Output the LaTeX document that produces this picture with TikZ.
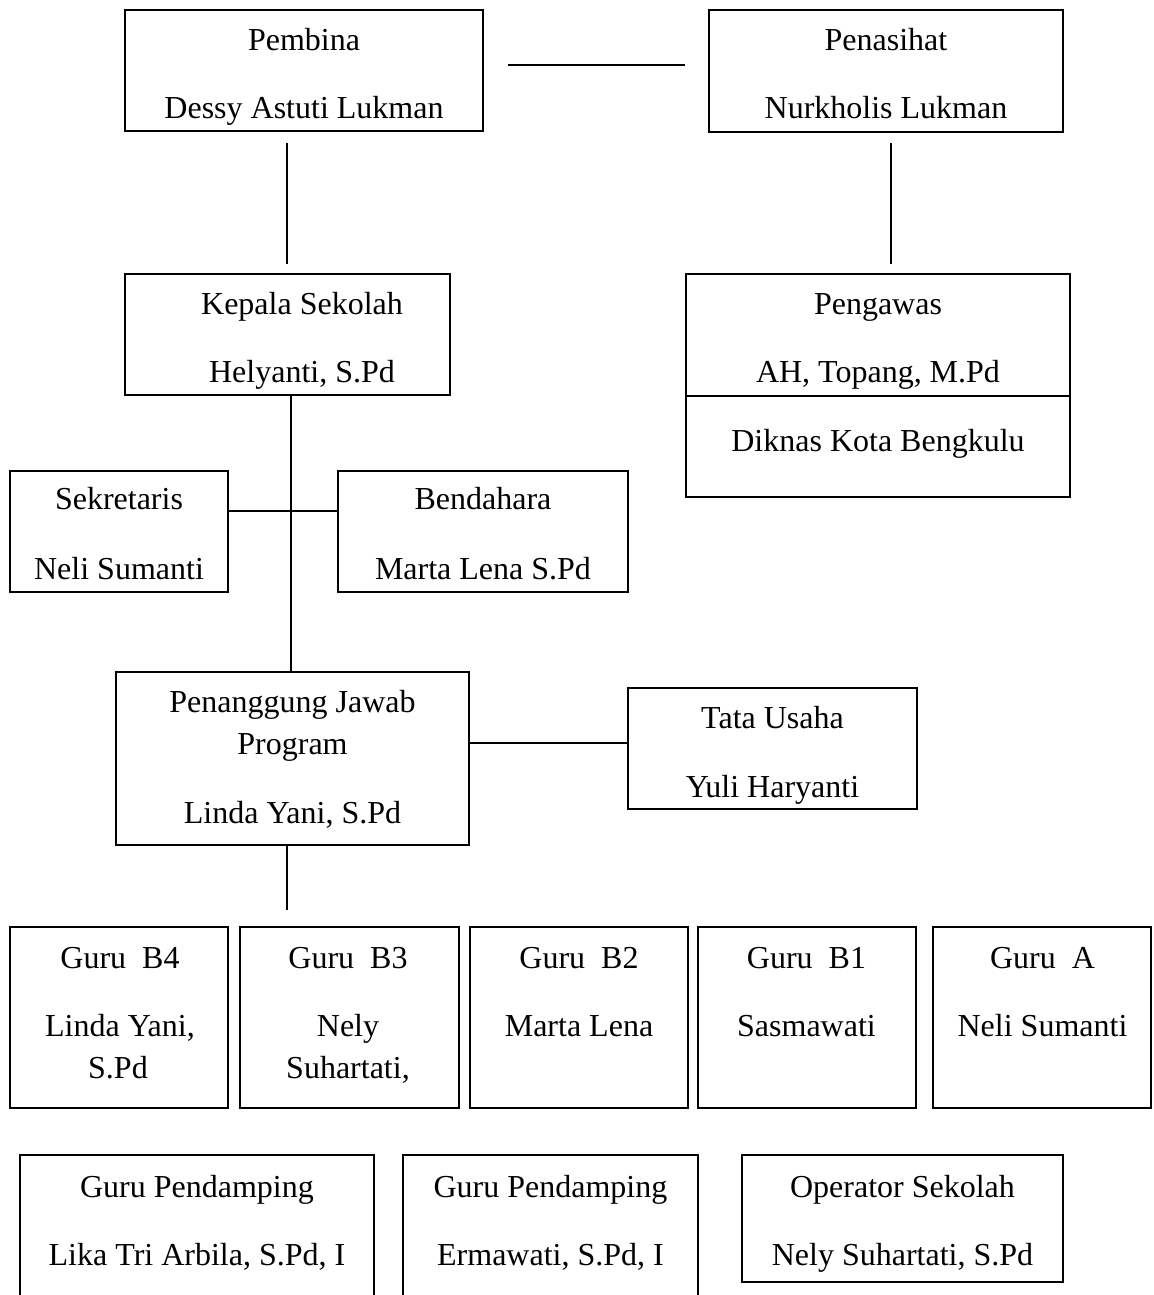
\documentclass[tikz,border=0pt]{standalone}
\usepackage{fontspec}
\setmainfont{Liberation Serif}
\usetikzlibrary{calc,fit}
\begin{document}
\begin{tikzpicture}[x=0.75pt,y=-0.75pt,
  box/.style={draw, line width=1.1pt, inner sep=0pt},
  txt/.style={anchor=base, inner sep=0pt, font=\fontsize{24}{28}\selectfont},
  conn/.style={line width=1.1pt}]
\useasboundingbox (0,0) rectangle (1153,1295);
\clip (0,0) rectangle (1153,1295);
% boxes
\node[box, fit={(125,10) (483,131)}] (pembina) {};
\node[box, fit={(709,10) (1063,132)}] (penasihat) {};
\node[box, fit={(125,274) (450,395)}] (kepala) {};
\node[box, fit={(686,274) (1070,497)}] (pengawas) {};
\node[box, fit={(10,471) (228,592)}] (sekretaris) {};
\node[box, fit={(338,471) (628,592)}] (bendahara) {};
\node[box, fit={(116,672) (469,845)}] (pj) {};
\node[box, fit={(628,688) (917,809)}] (tata) {};
\node[box, fit={(10,927) (228,1108)}] (gb4) {};
\node[box, fit={(240,927) (459,1108)}] (gb3) {};
\node[box, fit={(470,927) (688,1108)}] (gb2) {};
\node[box, fit={(698,927) (916,1108)}] (gb1) {};
\node[box, fit={(933,927) (1151,1108)}] (ga) {};
\node[box, fit={(20,1155) (374,1340)}] (gp1) {};
\node[box, fit={(403,1155) (698,1340)}] (gp2) {};
\node[box, fit={(742,1155) (1063,1282)}] (op) {};
% divider in Pengawas box
\draw[conn] ($(pengawas.west)+(0,10.5)$) -- ($(pengawas.east)+(0,10.5)$);
% texts
\node[txt] (t1) at (304,51) {Pembina};
\node[txt] (t2) at (304,118) {Dessy Astuti Lukman};
\node[txt] (t3) at (886,51) {Penasihat};
\node[txt] (t4) at (886,118) {Nurkholis Lukman};
\node[txt] (t5) at (302,314) {Kepala Sekolah};
\node[txt] (t6) at (302,382) {Helyanti, S.Pd};
\node[txt] (t7) at (878,314) {Pengawas};
\node[txt] (t8) at (878,382) {AH, Topang, M.Pd};
\node[txt] (t9) at (878,451) {Diknas Kota Bengkulu};
\node[txt] (t10) at (119,509) {Sekretaris};
\node[txt] (t11) at (119,579) {Neli Sumanti};
\node[txt] (t12) at (483,509) {Bendahara};
\node[txt] (t13) at (483,579) {Marta Lena S.Pd};
\node[txt] (t14) at (292.5,712) {Penanggung Jawab};
\node[txt] (t15) at (292.5,754) {Program};
\node[txt] (t16) at (292.5,823) {Linda Yani, S.Pd};
\node[txt] (t17) at (772.5,728) {Tata Usaha};
\node[txt] (t18) at (772.5,797) {Yuli Haryanti};
\node[txt] (t19) at (120,968) {Guru~~B4};
\node[txt] (t20) at (120,1036) {Linda Yani,};
\node[txt] (t21) at (118,1078) {S.Pd};
\node[txt] (t22) at (348,968) {Guru~~B3};
\node[txt] (t23) at (348,1036) {Nely};
\node[txt] (t24) at (348,1078) {Suhartati,};
\node[txt] (t25) at (579,968) {Guru~~B2};
\node[txt] (t26) at (579,1036) {Marta Lena};
\node[txt] (t27) at (806.5,968) {Guru~~B1};
\node[txt] (t28) at (806.5,1036) {Sasmawati};
\node[txt] (t29) at (1042.5,968) {Guru~~A};
\node[txt] (t30) at (1042.5,1036) {Neli Sumanti};
\node[txt] (t31) at (197,1197) {Guru Pendamping};
\node[txt] (t32) at (197,1265) {Lika Tri Arbila, S.Pd, I};
\node[txt] (t33) at (550.5,1197) {Guru Pendamping};
\node[txt] (t34) at (550.5,1265) {Ermawati, S.Pd, I};
\node[txt] (t35) at (902.5,1197) {Operator Sekolah};
\node[txt] (t36) at (902.5,1265) {Nely Suhartati, S.Pd};
% connectors
\draw[conn] ($(pembina.east)+(24,-5.5)$) -- ($(penasihat.west)+(-23,-6)$);
\draw[conn] ($(pembina.south)+(-17,11)$) -- ($(kepala.north)+(-0.5,-9)$);
\draw[conn] ($(penasihat.south)+(5,10)$) -- ($(pengawas.north)+(13,-9)$);
\draw[conn] ($(kepala.south)+(3.5,0)$) -- ($(pj.north)+(-1.5,0)$);
\draw[conn] ($(sekretaris.east)+(0,-20.5)$) -- ($(bendahara.west)+(0,-20.5)$);
\draw[conn] ($(pj.east)+(0,-15.5)$) -- ($(tata.west)+(0,-5.5)$);
\coordinate (pjend) at (287,910);
\draw[conn] ($(pj.south)+(-5.5,0)$) -- (pjend);
\end{tikzpicture}
\end{document}
